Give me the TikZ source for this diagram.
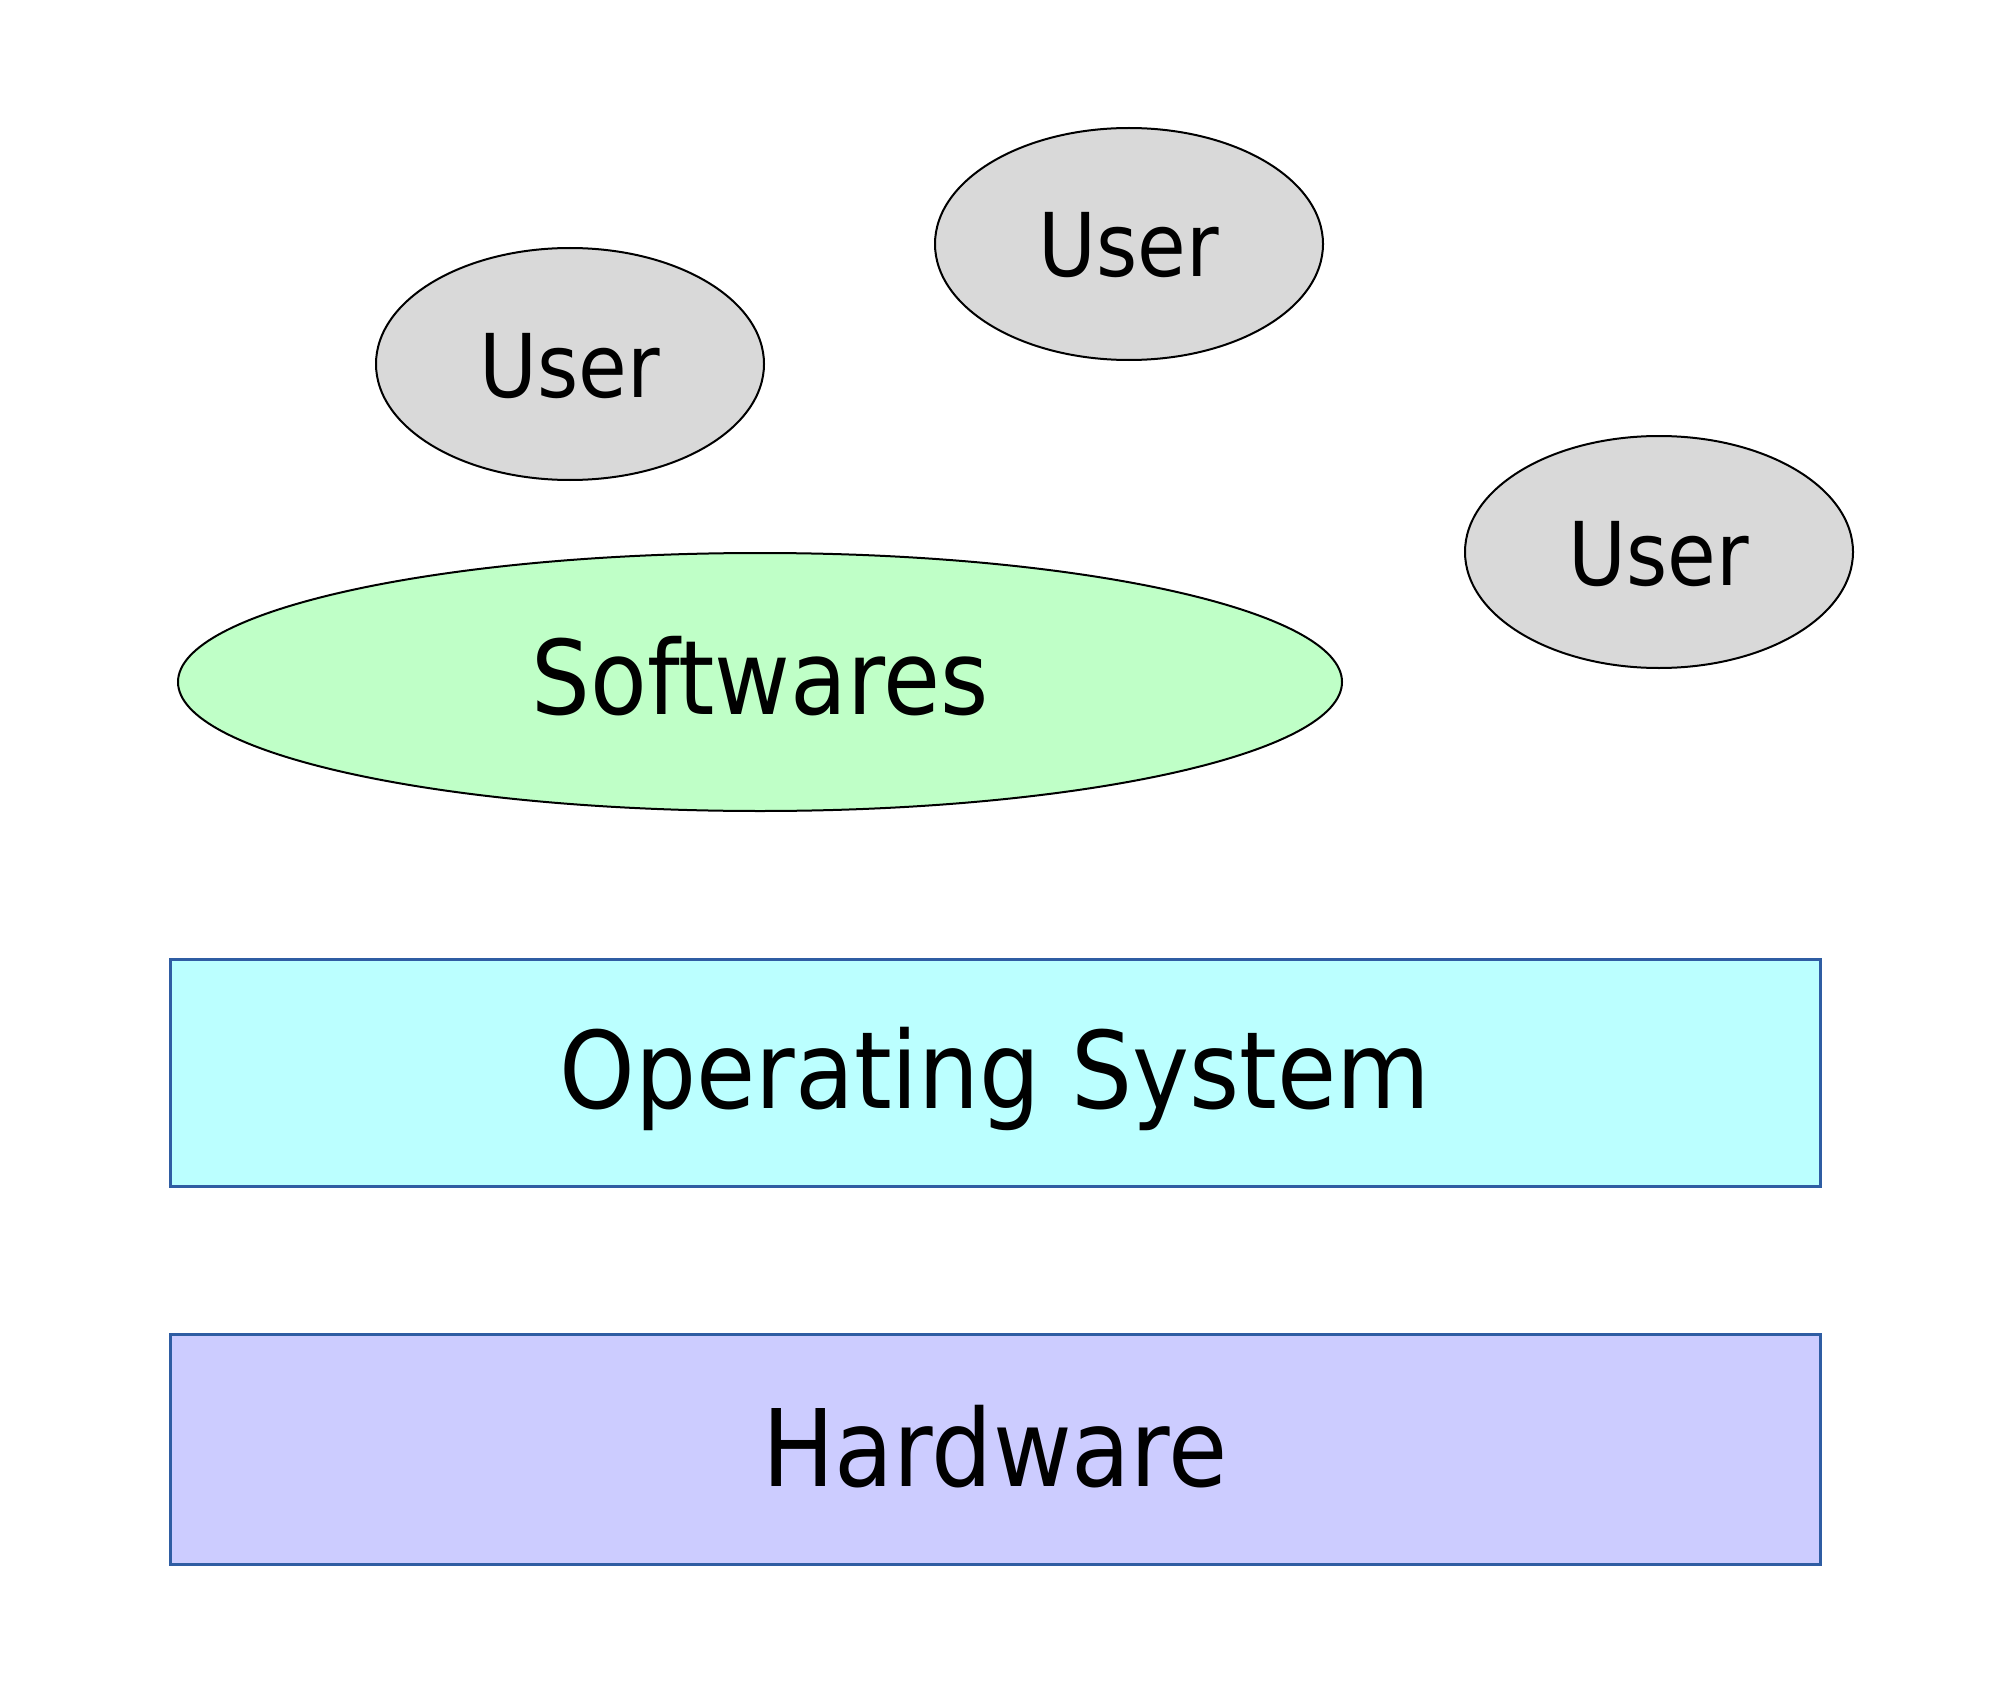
\documentclass[tikz,border=0pt]{standalone}
\usepackage{fontspec}
\setmainfont{DejaVu Sans}[FakeStretch=0.9]
\usetikzlibrary{shapes.geometric}
\definecolor{usergray}{HTML}{D9D9D9}
\definecolor{swgreen}{HTML}{BFFFC7}
\definecolor{oscyan}{HTML}{BBFFFF}
\definecolor{hwviolet}{HTML}{CCCCFF}
\definecolor{boxblue}{HTML}{2F5DA3}
\tikzset{
  userell/.style={ellipse, draw=black, line width=2pt, fill=usergray, inner sep=0pt,
    minimum width=388pt, minimum height=232pt,
    font=\fontsize{88}{100}\selectfont, text height=66pt, text depth=0pt},
  swell/.style={ellipse, draw=black, line width=2pt, fill=swgreen, inner sep=0pt,
    minimum width=1164pt, minimum height=258pt,
    font=\fontsize{103}{120}\selectfont, text height=64pt, text depth=0pt},
  layerbox/.style={rectangle, draw=boxblue, line width=3pt, inner sep=0pt,
    minimum width=1650pt, minimum height=227pt,
    font=\fontsize{107}{120}\selectfont, text depth=0pt},
}
\begin{document}
\begin{tikzpicture}[x=1pt, y=-1pt]
  \useasboundingbox (0,0) rectangle (2000,1704);
  \node[userell] (user1) at (570,364) {User};
  \node[userell] (user2) at (1129,244) {User};
  \node[userell] (user3) at (1659,552) {User};
  \node[swell] (soft) at (760,682) {Softwares};
  \node[layerbox, fill=oscyan, text height=71pt] (os) at (995,1072.5) {Operating System};
  \node[layerbox, fill=hwviolet, minimum height=230pt, text height=74pt] (hw) at (995,1449) {Hardware};
\end{tikzpicture}
\end{document}
